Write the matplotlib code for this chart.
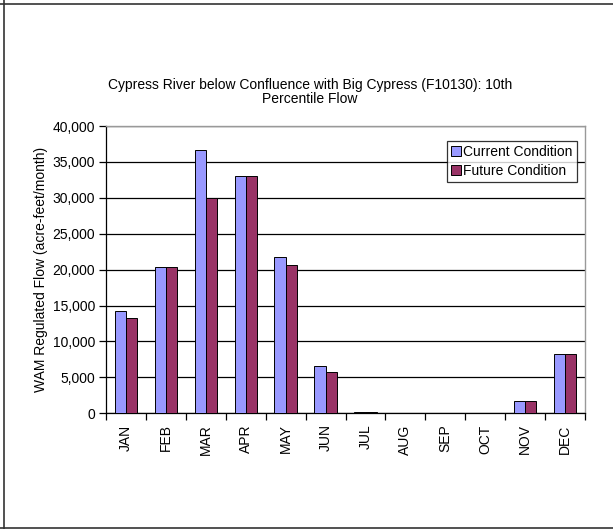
import matplotlib
matplotlib.use("Agg")
import matplotlib.pyplot as plt
import numpy as np
from matplotlib.lines import Line2D
from matplotlib.ticker import FuncFormatter, MultipleLocator

plt.rcParams['font.family'] = ['Liberation Sans', 'DejaVu Sans']

months = ["JAN", "FEB", "MAR", "APR", "MAY", "JUN",
          "JUL", "AUG", "SEP", "OCT", "NOV", "DEC"]
current = [14200, 20300, 36600, 33000, 21700, 6600, 120, 0, 0, 0, 1700, 8200]
future = [13300, 20300, 30000, 33000, 20600, 5800, 120, 0, 0, 0, 1700, 8200]
series_names = ["Current Condition", "Future Condition"]
title = "Cypress River below Confluence with Big Cypress (F10130): 10th\nPercentile Flow"
ylabel = "WAM Regulated Flow (acre-feet/month)"

FS = 10

fig = plt.figure(figsize=(6.13, 5.29), dpi=100)
ax = fig.add_axes([106 / 613, 1 - 413.3 / 529, (585 - 106) / 613, (413.3 - 126) / 529])

x = np.arange(len(months))
w = 0.28
ax.bar(x - w / 2, current, w, color="#9999FF", edgecolor="black", linewidth=0.7,
       label=series_names[0], zorder=3)
ax.bar(x + w / 2, future, w, color="#993366", edgecolor="black", linewidth=0.7,
       label=series_names[1], zorder=3)

ax.set_xlim(-0.5, len(months) - 0.5)
ax.set_ylim(0, 40000)
ax.yaxis.set_major_locator(MultipleLocator(5000))
ax.yaxis.set_major_formatter(FuncFormatter(lambda v, p: f"{int(v):,}"))
ax.yaxis.grid(True, color="black", linewidth=0.9, zorder=0)
ax.set_axisbelow(True)

ax.set_xticks(np.arange(len(months) + 1) - 0.5)
ax.set_xticklabels([])
ax.set_xticks(x, minor=True)
ax.set_xticklabels(months, minor=True, rotation=90, fontsize=FS)
ax.tick_params(axis="x", which="minor", length=0, pad=8)
ax.tick_params(axis="x", which="major", length=5, width=0.9, direction="out")
ax.tick_params(axis="y", length=5, width=0.9, direction="out", labelsize=FS, pad=3)

for side in ("top", "right"):
    ax.spines[side].set_color("#999999")
    ax.spines[side].set_linewidth(1.0)
for side in ("left", "bottom"):
    ax.spines[side].set_color("black")
    ax.spines[side].set_linewidth(0.9)

ax.set_ylabel(ylabel, fontsize=FS, labelpad=3)

fig.text(310 / 613, 1 - 78 / 529, title, ha="center", va="top", fontsize=FS,
         linespacing=1.0)

leg = ax.legend(loc="upper right", bbox_to_anchor=(577 / 613, 1 - 140.7 / 529),
                bbox_transform=fig.transFigure, fontsize=FS, frameon=True,
                fancybox=False, borderpad=0.3, handlelength=0.7, handleheight=0.7,
                handletextpad=0.2, labelspacing=0.35, borderaxespad=0)
leg.get_frame().set_edgecolor("black")
leg.get_frame().set_linewidth(0.9)

# outer frame around the chart area
fig.add_artist(Line2D([3.5 / 613, 3.5 / 613], [0, 1], transform=fig.transFigure,
                      color="#333333", linewidth=1.2))
fig.add_artist(Line2D([0, 1], [1 - 3.5 / 529, 1 - 3.5 / 529], transform=fig.transFigure,
                      color="#333333", linewidth=1.2))
fig.add_artist(Line2D([0, 1], [1 - 527.5 / 529, 1 - 527.5 / 529], transform=fig.transFigure,
                      color="#333333", linewidth=1.2))

fig.savefig("out.png", dpi=100)
